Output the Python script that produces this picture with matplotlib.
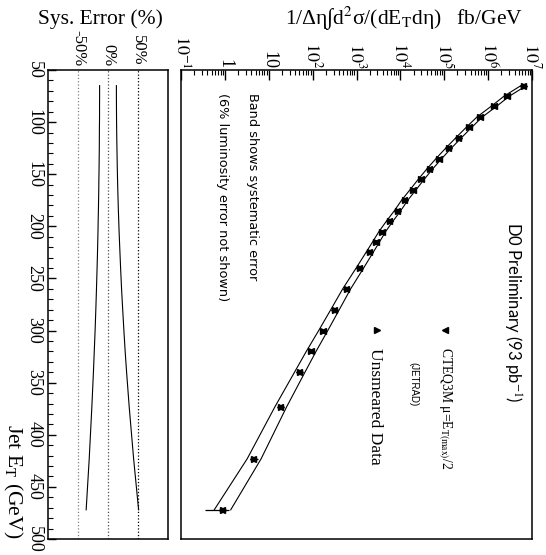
import numpy as np
import matplotlib
matplotlib.use('Agg')
import matplotlib.pyplot as plt
from matplotlib.ticker import MultipleLocator, LogLocator, NullFormatter

plt.rcParams['font.family'] = ['Liberation Serif', 'DejaVu Serif']
plt.rcParams['mathtext.fontset'] = 'stix'

# jet E_T bin centres (GeV)
et = [65, 75, 85, 95, 105, 115, 125, 135, 145, 155, 165, 175, 185, 195,
      205, 215, 225, 240, 260, 280, 300, 320, 340, 373, 423, 472]
# unsmeared data, fb/GeV
data = [6.5e6, 2.7e6, 1.35e6, 6.5e5, 3.7e5, 2.15e5, 1.26e5, 7.6e4, 4.7e4,
        3.0e4, 1.95e4, 1.26e4, 8.7e3, 5.75e3, 3.9e3, 2.8e3, 2.0e3, 1.2e3,
        600, 325, 175, 93, 51, 19, 4.7, 0.9]
# CTEQ3M (JETRAD) prediction, fb/GeV
theory = [6.4e6, 2.65e6, 1.33e6, 6.4e5, 3.65e5, 2.1e5, 1.24e5, 7.5e4, 4.6e4,
          2.95e4, 1.9e4, 1.24e4, 8.5e3, 5.6e3, 3.8e3, 2.75e3, 1.95e3, 1.15e3,
          580, 315, 170, 90, 49, 18, 4.4, 0.88]
# statistical error on data (fraction)
stat_lo = [0.01, 0.01, 0.01, 0.01, 0.01, 0.01, 0.01, 0.01, 0.01, 0.01, 0.01,
           0.01, 0.01, 0.02, 0.02, 0.02, 0.02, 0.03, 0.03, 0.04, 0.05, 0.06,
           0.07, 0.10, 0.20, 0.60]
stat_hi = [0.01, 0.01, 0.01, 0.01, 0.01, 0.01, 0.01, 0.01, 0.01, 0.01, 0.01,
           0.01, 0.01, 0.02, 0.02, 0.02, 0.02, 0.03, 0.03, 0.04, 0.05, 0.06,
           0.07, 0.10, 0.20, 0.35]
# systematic error band (%)
sys_lo = [-14.0, -14.0, -14.1, -14.1, -14.3, -14.4, -14.5, -14.7, -14.9, -15.2,
          -15.4, -15.7, -16.0, -16.4, -16.7, -17.1, -17.5, -18.2, -19.2, -20.3,
          -21.5, -22.9, -24.3, -26.9, -31.3, -36.4]
sys_hi = [14.0, 14.0, 14.1, 14.2, 14.4, 14.6, 14.9, 15.2, 15.5, 15.9, 16.3,
          16.8, 17.3, 17.9, 18.5, 19.2, 19.9, 21.0, 22.6, 24.5, 26.5, 28.6,
          31.0, 35.3, 42.7, 51.0]

et = np.array(et)
data = np.array(data)
band_lo = data * (1 + np.array(sys_lo) / 100)
band_hi = data * (1 + np.array(sys_hi) / 100)
xerr = [data * np.array(stat_lo), data * np.array(stat_hi)]

fig = plt.figure(figsize=(5.46, 5.55), dpi=100)
W, H = 546, 555
ax = fig.add_axes([181 / W, 1 - 539 / H, 351 / W, 469 / H])
ax2 = fig.add_axes([48 / W, 1 - 539 / H, 120 / W, 469 / H])

# main panel: cross section along x (log), E_T down the page
ax.plot(band_lo, et, color='black', lw=0.8)
ax.plot(band_hi, et, color='black', lw=0.8)
ax.errorbar(data, et, xerr=xerr, fmt='>', color='black', ms=4,
            elinewidth=0.9, capsize=0)
ax.plot(theory, et, '<', color='black', ms=4)
ax.set_xscale('log')
ax.set_xlim(1e-1, 1e7)
ax.set_ylim(500, 50)
ax.xaxis.tick_top()
ax.xaxis.set_minor_locator(LogLocator(base=10, subs=np.arange(2, 10), numticks=20))
ax.xaxis.set_minor_formatter(NullFormatter())
labels = [r'$10^{-1}$', '1', '10', r'$10^{2}$', r'$10^{3}$', r'$10^{4}$',
          r'$10^{5}$', r'$10^{6}$', r'$10^{7}$']
ax.set_xticks([10.0 ** k for k in range(-1, 8)])
ax.set_xticklabels(labels, rotation=-90, fontsize=13)
ax.tick_params(axis='x', which='major', direction='in', length=7, width=1, pad=1)
ax.tick_params(axis='x', which='minor', direction='in', length=3.5, width=0.8)
ax.set_yticks([])
for s in ax.spines.values():
    s.set_linewidth(1.1)

# text in the main panel
ax.text(0.943, 0.484, r'D0 Preliminary (93 pb$^{-1}$)', rotation=-90,
        ha='center', va='center', fontsize=12, family=['Lato', 'DejaVu Sans'],
        transform=ax.transAxes)
ax.plot([0.752], [0.446], '<', color='black', ms=5, transform=ax.transAxes)
ax.text(0.752, 0.409, 'CTEQ3M μ=E$_{\\mathrm{T(max)}}$/2', rotation=-90,
        ha='center', va='top', fontsize=9.8, transform=ax.transAxes)
ax.text(0.661, 0.377, '(JETRAD)', rotation=-90, ha='center', va='top',
        fontsize=7, family=['Liberation Sans', 'DejaVu Sans'],
        transform=ax.transAxes)
ax.plot([0.558], [0.446], '>', color='black', ms=5, transform=ax.transAxes)
ax.text(0.553, 0.407, 'Unsmeared Data', rotation=-90, ha='center', va='top',
        fontsize=12.5, transform=ax.transAxes)
ax.text(0.205, 0.951, 'Band shows systematic error', rotation=-90,
        ha='center', va='top', fontsize=9.3, family=['DejaVu Sans'],
        transform=ax.transAxes)
ax.text(0.117, 0.951, '(6% luminosity error not shown)', rotation=-90,
        ha='center', va='top', fontsize=9.3, family=['DejaVu Sans'],
        transform=ax.transAxes)

# systematic error panel
ax2.plot(sys_lo, et, color='black', lw=0.8)
ax2.plot(sys_hi, et, color='black', lw=0.8)
for v, c in zip([-50, 0, 50], ['0.5', '0.3', 'black']):
    ax2.axvline(v, color=c, ls=':', lw=0.9)
ax2.set_xlim(-100, 100)
ax2.set_ylim(500, 50)
ax2.xaxis.tick_top()
ax2.set_xticks([-50, 0, 50])
ax2.set_xticklabels(['-50%', '0%', '50%'], rotation=-90, fontsize=12)
ax2.tick_params(axis='x', length=0, pad=3)
ax2.yaxis.set_major_locator(MultipleLocator(50))
ax2.yaxis.set_minor_locator(MultipleLocator(10))
ax2.tick_params(axis='y', which='major', direction='in', length=6, width=1, pad=4,
                labelsize=13, labelrotation=-90)
ax2.tick_params(axis='y', which='minor', direction='in', length=3.5, width=0.8)
for lab in ax2.get_yticklabels():
    lab.set_va('center')
for s in ax2.spines.values():
    s.set_linewidth(1.1)

fig.text(100 / W, 1 - 19 / H, 'Sys. Error (%)', ha='center', va='center', fontsize=15.5)
fig.text(404 / W, 1 - 19 / H,
         '1/Δη∫d$^{2}$σ/(dE$_{\\mathrm{T}}$dη)   fb/GeV',
         ha='center', va='center', fontsize=15.5)
fig.text(13 / W, 1 - 481 / H, r'Jet E$_{\mathrm{T}}$ (GeV)', rotation=-90,
         ha='center', va='center', fontsize=15.5)

fig.savefig('out.png', dpi=100)
